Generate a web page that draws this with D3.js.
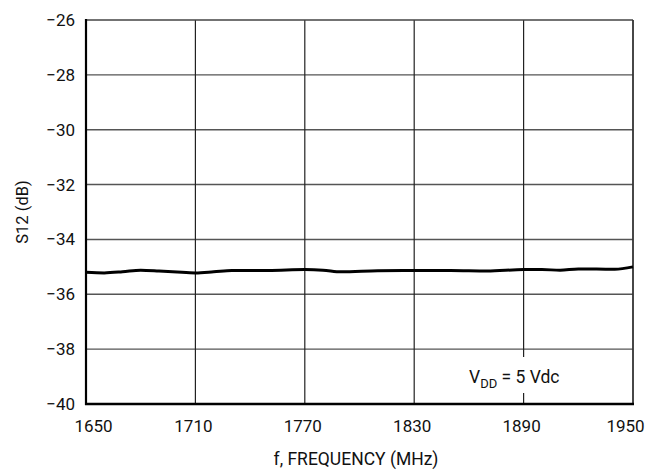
<!DOCTYPE html>
<html><head><meta charset="utf-8">
<script src="https://cdn.jsdelivr.net/npm/d3@7"></script>
<style>body{margin:0;background:#fff}svg{display:block}text{font-family:Roboto,"Liberation Sans",Arial,sans-serif;font-weight:400;fill:#111}</style>
</head><body>
<svg id="c" width="649" height="475"></svg>
<script>
const xTicks = [1650, 1710, 1770, 1830, 1890, 1950];
const yTicks = [-40, -38, -36, -34, -32, -30, -28, -26];
const freq = [1650, 1660, 1670, 1680, 1690, 1700, 1710, 1720, 1730, 1750, 1770, 1780, 1790, 1810, 1830, 1850, 1870, 1890, 1900, 1910, 1920, 1930, 1940, 1950];
const s12  = [-35.2, -35.22, -35.18, -35.12, -35.15, -35.19, -35.22, -35.18, -35.13, -35.13, -35.1, -35.12, -35.18, -35.14, -35.13, -35.13, -35.15, -35.1, -35.1, -35.12, -35.08, -35.08, -35.09, -35.0];
const annotation = "= 5 Vdc";

const svg = d3.select("#c");
const L = 86, R = 633, T = 20, B = 404;
const x = d3.scaleLinear().domain([1650, 1950]).range([L, R]);
const y = d3.scaleLinear().domain([-40, -26]).range([B, T]);
const FONT = "Roboto, Liberation Sans, Arial, sans-serif";

// grid
svg.append("g").selectAll("line").data(yTicks.slice(1, -1)).join("line")
  .attr("x1", L).attr("x2", R).attr("y1", d => y(d)).attr("y2", d => y(d))
  .attr("stroke", "#555").attr("stroke-width", 1.4);
svg.append("g").selectAll("line").data(xTicks.slice(1, -1)).join("line")
  .attr("y1", T).attr("y2", B).attr("x1", d => x(d)).attr("x2", d => x(d))
  .attr("stroke", "#222").attr("stroke-width", 1.2);

// annotation box
svg.append("rect").attr("x", 452).attr("y", 357).attr("width", 125).attr("height", 36).attr("fill", "#fff");
const ann = svg.append("text").attr("x", 469).attr("y", 383).attr("font-size", 17.5);
ann.append("tspan").text("V");
ann.append("tspan").attr("dy", 5).attr("font-size", 13).text("DD");
ann.append("tspan").attr("dy", -5).text(" " + annotation);

// frame
svg.append("line").attr("x1", L).attr("x2", R).attr("y1", T).attr("y2", T).attr("stroke", "#444").attr("stroke-width", 1.6);
svg.append("line").attr("x1", R).attr("x2", R).attr("y1", T).attr("y2", B).attr("stroke", "#333").attr("stroke-width", 1.8);
svg.append("line").attr("x1", L).attr("x2", L).attr("y1", T - 1).attr("y2", B + 1).attr("stroke", "#000").attr("stroke-width", 2.2);
svg.append("line").attr("x1", L - 1).attr("x2", R + 1).attr("y1", B).attr("y2", B).attr("stroke", "#000").attr("stroke-width", 2.4);

// axes labels via d3 axes
const yAxis = svg.append("g").attr("transform", `translate(${L},0)`)
  .call(d3.axisLeft(y).tickValues(yTicks).tickSize(0).tickPadding(11).tickFormat(d => "\u2212" + Math.abs(d)));
yAxis.select(".domain").remove();
yAxis.selectAll("text").attr("font-size", 17).attr("font-family", FONT).attr("font-weight", 400).attr("fill", "#111");
const xAxis = svg.append("g").attr("transform", `translate(0,${B})`)
  .call(d3.axisBottom(x).tickValues(xTicks).tickSize(0).tickPadding(16).tickFormat(d3.format("d")));
xAxis.select(".domain").remove();
xAxis.selectAll("text").attr("font-size", 17).attr("font-family", FONT).attr("font-weight", 400).attr("fill", "#111")
  .attr("dx", (d, i) => i === 0 ? 7 : (i === xTicks.length - 1 ? -8 : -2.5));

// curve
svg.append("path").datum(freq.map((f, i) => [f, s12[i]]))
  .attr("fill", "none").attr("stroke", "#000").attr("stroke-width", 3)
  .attr("d", d3.line().x(d => x(d[0])).y(d => y(d[1])).curve(d3.curveMonotoneX));

// titles
svg.append("text").attr("x", 356).attr("y", 465).attr("text-anchor", "middle").attr("font-size", 17.5).text("f, FREQUENCY (MHz)");
svg.append("text").attr("transform", "translate(28,212) rotate(-90)").attr("text-anchor", "middle").attr("font-size", 16.5).text("S12 (dB)");
</script>
</body></html>
